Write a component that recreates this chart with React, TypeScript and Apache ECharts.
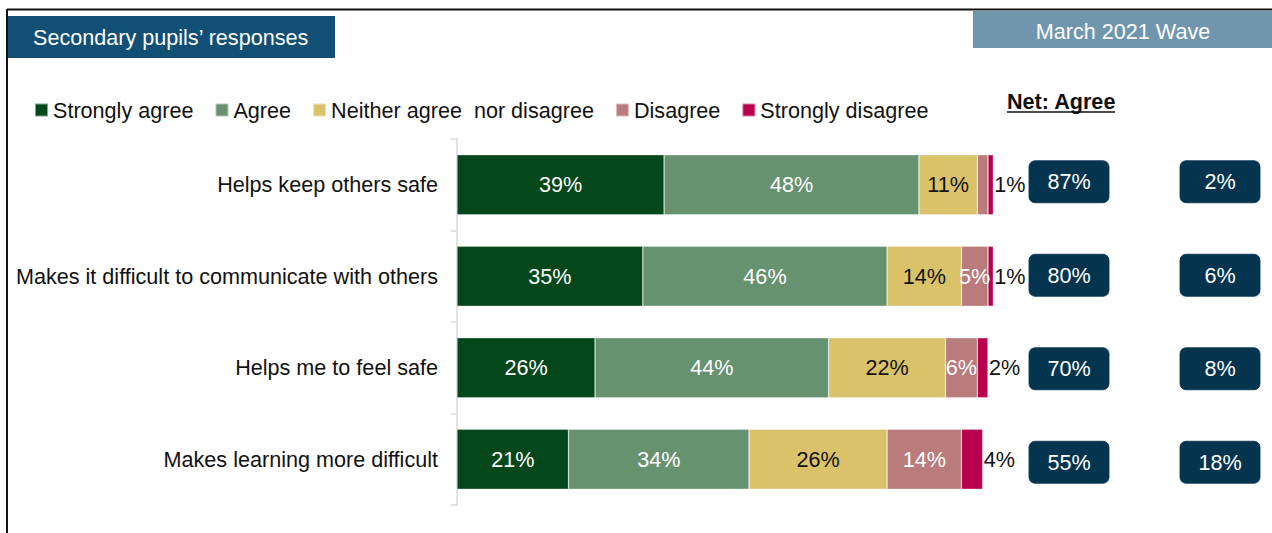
import React, { useEffect, useRef } from "react";
import * as echarts from "echarts";

const categories = [
  "Helps keep others safe",
  "Makes it difficult to communicate with others",
  "Helps me to feel safe",
  "Makes learning more difficult",
];
const stronglyAgree = [39, 35, 26, 21];
const agree = [48, 46, 44, 34];
const neither = [11, 14, 22, 26];
const disagree = [2, 5, 6, 14];
const stronglyDisagree = [1, 1, 2, 4];
const netAgree = [87, 80, 70, 55];
const netDisagree = [2, 6, 8, 18];

const seriesNames = [
  "Strongly agree",
  "Agree",
  "Neither agree  nor disagree",
  "Disagree",
  "Strongly disagree",
];
const FONT = "'Liberation Sans', Arial, sans-serif";
const FS = 21.6;

export default function App() {
  const ref = useRef<HTMLDivElement>(null);
  useEffect(() => {
    if (!ref.current) return;
    const chart = echarts.init(ref.current, undefined, { renderer: "svg" });
    const colors = ["#03471a", "#669270", "#dac26b", "#b97b7c", "#b9004f"];
    const labelColors = ["#ffffff", "#ffffff", "#111111", "#ffffff", "#111111"];
    const values = [stronglyAgree, agree, neither, disagree, stronglyDisagree];

    const barSeries = values.map((vals, si) => ({
      name: seriesNames[si],
      type: "bar",
      stack: "total",
      xAxisIndex: 0,
      yAxisIndex: 0,
      barWidth: 60,
      data: vals,
      itemStyle: { color: colors[si], borderColor: "rgba(255,255,255,0.5)", borderWidth: 0.6 },
      label: {
        show: true,
        position: si === 4 ? "right" : "inside",
        distance: 1,
        color: labelColors[si],
        fontSize: FS,
        fontFamily: FONT,
        formatter: (p: any) => (si === 4 || p.value >= 3 ? p.value + "%" : ""),
      },
    }));

    const boxStyle = {
      type: "scatter",
      xAxisIndex: 1,
      yAxisIndex: 1,
      symbolSize: 2,
      itemStyle: { color: "rgba(0,0,0,0)", opacity: 1 },
      emphasis: { disabled: true },
      label: {
        show: true,
        position: "inside",
        color: "#ffffff",
        fontSize: FS,
        fontFamily: FONT,
        width: 80,
        height: 42,
        lineHeight: 42,
        align: "center",
        verticalAlign: "middle",
        backgroundColor: "#05344f",
        borderColor: "#2c5570",
        borderWidth: 0.5,
        borderRadius: 6,
        formatter: (p: any) => p.value[2] + "%",
      },
    };

    chart.setOption({
      animation: false,
      textStyle: { fontFamily: FONT },
      legend: {
        left: 29,
        top: 94,
        itemWidth: 13,
        itemHeight: 13,
        itemGap: 21,
        icon: "rect",
        selectedMode: false,
        data: seriesNames,
        textStyle: { fontSize: FS, color: "#111111", fontFamily: FONT },
      },
      grid: [
        { left: 457, top: 139, height: 366, width: 541.6 },
        { left: 1000, top: 135, height: 374, width: 272 },
      ],
      xAxis: [
        { type: "value", gridIndex: 0, min: 0, max: 102, show: false },
        { type: "value", gridIndex: 1, min: 0, max: 272, show: false },
      ],
      yAxis: [
        {
          type: "category",
          gridIndex: 0,
          inverse: true,
          data: categories,
          axisLine: { show: true, lineStyle: { color: "#d9d9d9", width: 1.5 } },
          axisTick: { show: true, length: 6, lineStyle: { color: "#d9d9d9", width: 1.5 } },
          axisLabel: { fontSize: FS, color: "#111111", margin: 19, fontFamily: FONT },
        },
        { type: "category", gridIndex: 1, inverse: true, data: categories, show: false },
      ],
      series: [
        ...barSeries,
        { ...boxStyle, name: "Net: Agree", data: netAgree.map((v, i) => [69, i, v]) },
        { ...boxStyle, name: "Net: Disagree", data: netDisagree.map((v, i) => [220, i, v]) },
      ],
      graphic: [
        { type: "line", shape: { x1: 7, y1: 9.5, x2: 1272, y2: 9.5 }, style: { stroke: "#111111", lineWidth: 2 } },
        { type: "line", shape: { x1: 7, y1: 9, x2: 7, y2: 533 }, style: { stroke: "#111111", lineWidth: 2 } },
        { type: "rect", shape: { x: 8, y: 16, width: 327, height: 42 }, style: { fill: "#114f74" } },
        {
          type: "text",
          x: 33,
          y: 37,
          style: { text: "Secondary pupils\u2019 responses", fill: "#ffffff", fontSize: FS, fontFamily: FONT, verticalAlign: "middle" },
        },
        { type: "rect", shape: { x: 973, y: 11, width: 299, height: 37 }, style: { fill: "#7096ae" } },
        {
          type: "text",
          x: 1123,
          y: 31,
          style: { text: "March 2021 Wave", fill: "#ffffff", fontSize: FS, fontFamily: FONT, align: "center", verticalAlign: "middle" },
        },
        {
          type: "text",
          x: 1007,
          y: 101,
          style: { text: "Net: Agree", fill: "#111111", fontSize: FS, fontWeight: "bold", fontFamily: FONT, verticalAlign: "middle" },
        },
        { type: "line", shape: { x1: 1007, y1: 112, x2: 1115, y2: 112 }, style: { stroke: "#111111", lineWidth: 1.5 } },
      ],
    });
    return () => chart.dispose();
  }, []);
  return <div ref={ref} style={{ position: "absolute", left: 0, top: 0, width: 1272, height: 533 }} />;
}
